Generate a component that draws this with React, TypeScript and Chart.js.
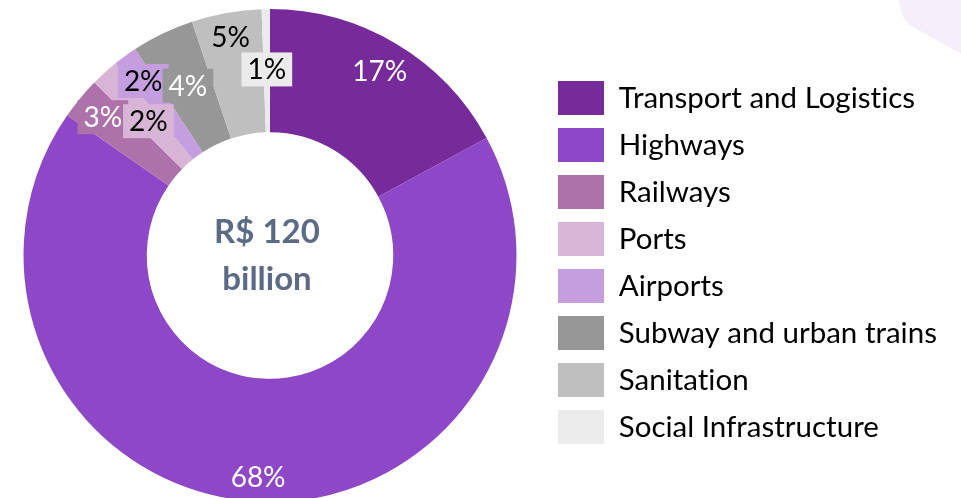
import React, { useEffect, useRef } from 'react';
import { Chart, registerables } from 'chart.js';

Chart.register(...registerables);

// Investment portfolio, R$ billion
const categories = [
  'Transport and Logistics',
  'Highways',
  'Railways',
  'Ports',
  'Airports',
  'Subway and urban trains',
  'Sanitation',
  'Social Infrastructure',
];
const investment = [20.5, 81.05, 3.3, 2.2, 1.9, 4.9, 5.5, 0.65];
const centerLines = ['R$ 120', 'billion'];

const sliceColors = ['#772B9A', '#8E47C6', '#AE72AA', '#D8B5D6', '#C59EE0', '#979797', '#BFBFBF', '#EBEBEB'];
const labelTextColors = ['#FFFFFF', '#FFFFFF', '#FFFFFF', '#000000', '#000000', '#FFFFFF', '#000000', '#000000'];
// where each percentage sits across the ring (0 = inner edge, 1 = outer edge)
const labelRing = [0.74, 0.8, 0.76, 0.47, 0.75, 0.53, 0.8, 0.51];
// small slices get a filled tag behind their percentage
const labelBoxed = [false, false, true, true, true, true, false, true];

// the canvas starts a little left of the page edge so the ring can sit close to it
const SHIFT = 20;
const W = 961 + SHIFT;
const H = 520;
const FONT = 'Lato';
const LEGEND_SIZE = 29.5;
const LABEL_SIZE = 28;
const CENTER_SIZE = 33;
const LEGEND_LEFT = 545 + SHIFT;
const BOX_W = 46;
const BOX_H = 34;
const ROW_GAP = 13;

// plain glyphs, no ligatures
const plainText = {
  id: 'plainText',
  beforeLayout(chart: any) {
    chart.ctx.textRendering = 'optimizeSpeed';
  },
  beforeDraw(chart: any) {
    chart.ctx.textRendering = 'optimizeSpeed';
  },
};

const cornerShape = {
  id: 'cornerShape',
  beforeDraw(chart: any) {
    const { ctx } = chart;
    ctx.save();
    ctx.translate(SHIFT, 0);
    ctx.fillStyle = '#F4EFFA';
    ctx.beginPath();
    ctx.moveTo(899, 0);
    ctx.bezierCurveTo(900, 14, 905, 23, 915, 28);
    ctx.lineTo(961, 54);
    ctx.lineTo(961, 0);
    ctx.closePath();
    ctx.fill();
    ctx.restore();
  },
};

const sliceLabels = {
  id: 'sliceLabels',
  afterDatasetsDraw(chart: any) {
    const { ctx } = chart;
    const meta = chart.getDatasetMeta(0);
    const values = chart.data.datasets[0].data as number[];
    const total = values.reduce((a, b) => a + b, 0);
    ctx.save();
    ctx.font = `${LABEL_SIZE}px ${FONT}`;
    ctx.textAlign = 'center';
    ctx.textBaseline = 'middle';
    meta.data.forEach((arc: any, i: number) => {
      const { x, y, startAngle, endAngle, innerRadius, outerRadius } = arc.getProps(
        ['x', 'y', 'startAngle', 'endAngle', 'innerRadius', 'outerRadius'],
        true
      );
      const mid = (startAngle + endAngle) / 2;
      const r = innerRadius + (outerRadius - innerRadius) * labelRing[i];
      const lx = x + Math.cos(mid) * r;
      const ly = y + Math.sin(mid) * r;
      const text = `${Math.round((values[i] / total) * 100)}%`;
      if (labelBoxed[i]) {
        const w = ctx.measureText(text).width + 12;
        ctx.fillStyle = sliceColors[i];
        ctx.fillRect(lx - w / 2, ly - 17, w, 34);
      }
      ctx.fillStyle = labelTextColors[i];
      ctx.fillText(text, lx, ly + 1);
    });
    ctx.restore();
  },
};

const centerTotal = {
  id: 'centerTotal',
  afterDatasetsDraw(chart: any) {
    const { ctx } = chart;
    const arc = chart.getDatasetMeta(0).data[0];
    if (!arc) return;
    ctx.save();
    ctx.font = `bold ${CENTER_SIZE}px ${FONT}`;
    ctx.fillStyle = '#5B6B86';
    ctx.textAlign = 'center';
    ctx.textBaseline = 'alphabetic';
    ctx.fillText(centerLines[0], arc.x - 3, arc.y - 13);
    ctx.fillText(centerLines[1], arc.x - 3, arc.y + 34);
    ctx.restore();
  },
};

export default function App() {
  const canvasRef = useRef<HTMLCanvasElement | null>(null);

  useEffect(() => {
    const canvas = canvasRef.current;
    if (!canvas) return;

    // size the right-hand legend so its boxes start at a fixed x
    const mctx = canvas.getContext('2d')!;
    (mctx as any).textRendering = 'optimizeSpeed';
    mctx.font = `${LEGEND_SIZE}px ${FONT}`;
    const maxText = Math.max(...categories.map((c) => mctx.measureText(c).width));
    const legendWidth = ROW_GAP + BOX_W + LEGEND_SIZE / 2 + maxText + 10;
    const padRight = Math.max(W - LEGEND_LEFT - legendWidth, 0);

    const chart = new Chart(canvas, {
      type: 'doughnut',
      data: {
        labels: categories,
        datasets: [
          {
            data: investment,
            backgroundColor: sliceColors,
            borderWidth: 0,
            hoverOffset: 0,
          },
        ],
      },
      options: {
        animation: false,
        responsive: false,
        devicePixelRatio: 1,
        cutout: '50%',
        layout: {
          padding: { left: 15, right: padRight, top: 9, bottom: 18 },
        },
        plugins: {
          tooltip: { enabled: false },
          legend: {
            position: 'right',
            align: 'center',
            title: {
              display: true,
              text: '',
              font: { size: 10, lineHeight: 1 },
              padding: { top: 0, bottom: 4 },
            },
            labels: {
              boxWidth: BOX_W,
              boxHeight: BOX_H,
              padding: ROW_GAP,
              color: '#000000',
              font: { family: FONT, size: LEGEND_SIZE },
            },
          },
        },
      },
      plugins: [plainText, cornerShape, sliceLabels, centerTotal],
    });

    return () => chart.destroy();
  }, []);

  return (
    <div
      style={{
        position: 'fixed',
        left: 0,
        top: 0,
        width: 961,
        height: 498,
        overflow: 'hidden',
        background: '#FFFFFF',
      }}
    >
      <canvas
        ref={canvasRef}
        width={W}
        height={H}
        style={{ position: 'absolute', left: -SHIFT, top: 0, width: W, height: H, display: 'block' }}
      />
    </div>
  );
}
